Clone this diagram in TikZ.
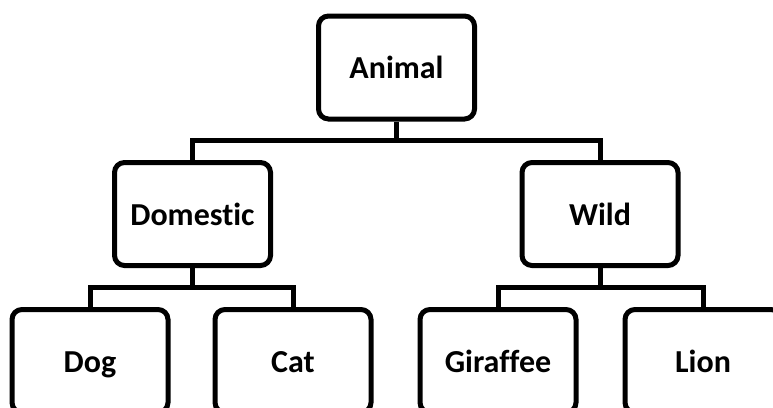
\documentclass[tikz,border=0pt]{standalone}
\usepackage{fontspec}
\setmainfont{Carlito}[Ligatures={NoCommon,NoRare,NoDiscretionary}]
\begin{document}
\begin{tikzpicture}[x=1pt,y=-1pt,
  box/.style={draw=black, line width=5pt, rounded corners=10pt, fill=white,
    minimum width=156pt, minimum height=103pt, inner sep=0pt,
    text height=22pt, text depth=0pt,
    font=\fontsize{32}{38}\selectfont\bfseries},
  conn/.style={draw=black, line width=5pt}]
\useasboundingbox (0,0) rectangle (773,407);
\node[box] (animal) at (396.5,67.5) {Animal};
\node[box] (domestic) at (192.5,214) {Domestic};
\node[box] (wild) at (600,214) {Wild};
\node[box] (dog) at (90,361) {Dog};
\node[box] (cat) at (293,361) {Cat};
\node[box] (giraffee) at (498,361) {Giraffee};
\node[box] (lion) at (703,361) {Lion};
\coordinate (h1) at (396.5,140.5);
\coordinate (h2) at (192.5,287.5);
\coordinate (h3) at (600,287.5);
\draw[conn] (animal.south) -- (h1);
\draw[conn] (domestic.north) |- (h1) -| (wild.north);
\draw[conn] (domestic.south) -- (h2);
\draw[conn] (dog.north) |- (h2) -| (cat.north);
\draw[conn] (wild.south) -- (h3);
\draw[conn] (giraffee.north) |- (h3) -| (lion.north);
\end{tikzpicture}
\end{document}
